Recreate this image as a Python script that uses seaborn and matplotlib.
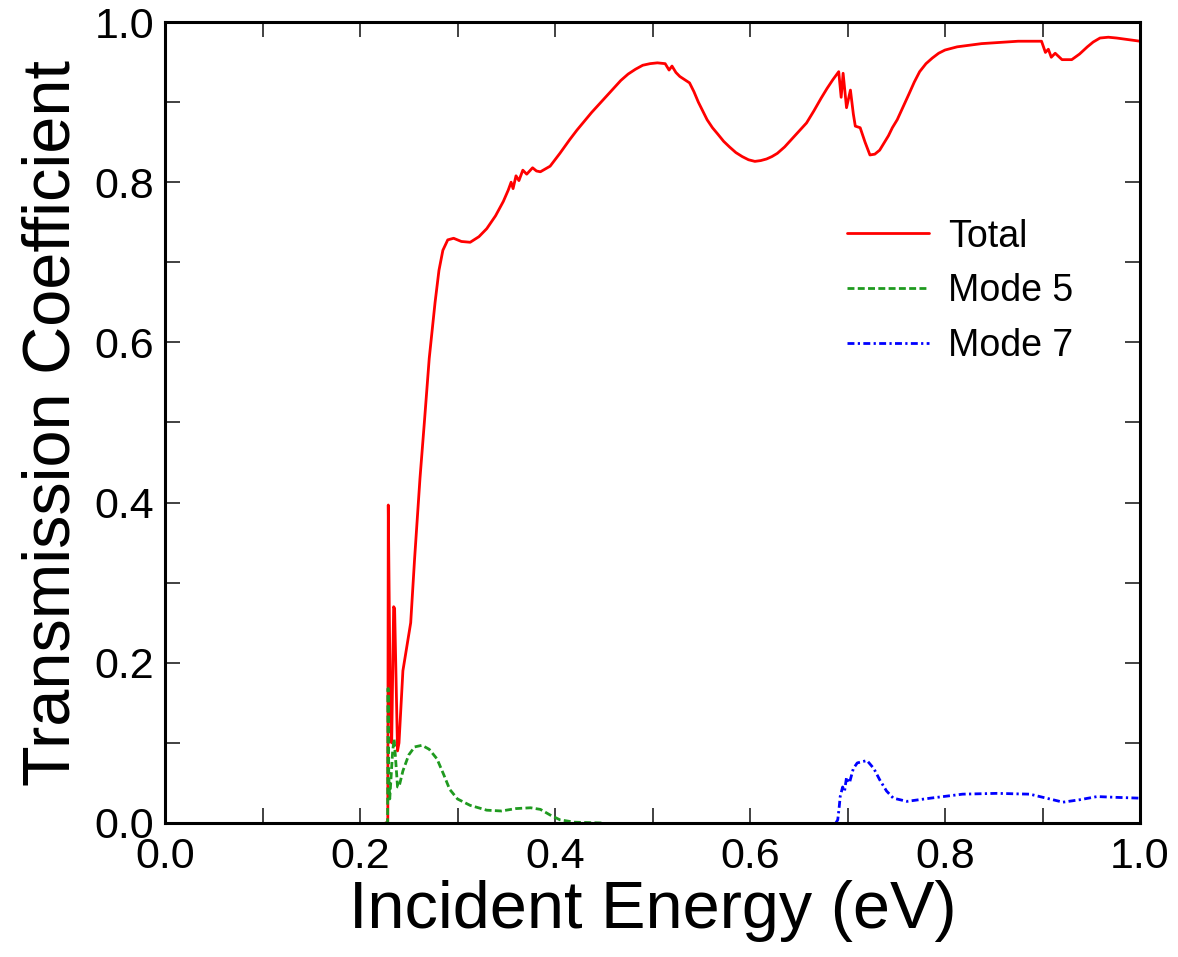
import numpy as np
import pandas as pd
import matplotlib
matplotlib.use("Agg")
import matplotlib.pyplot as plt
from matplotlib.ticker import MultipleLocator
import seaborn as sns

# ---- data ----
total_E = [0.2260, 0.2285, 0.2290, 0.2310, 0.2325, 0.2345, 0.2355, 0.2385, 0.2400, 0.2440,
           0.2480, 0.2520, 0.2560, 0.2615, 0.2660, 0.2710, 0.2770, 0.2810, 0.2850, 0.2900,
           0.2960, 0.3040, 0.3130, 0.3220, 0.3300, 0.3390, 0.3470, 0.3520, 0.3550, 0.3570,
           0.3600, 0.3630, 0.3670, 0.3710, 0.3770, 0.3810, 0.3850, 0.3950, 0.4050, 0.4150,
           0.4225, 0.4300, 0.4375, 0.4450, 0.4525, 0.4600, 0.4675, 0.4750, 0.4825, 0.4900,
           0.4975, 0.5050, 0.5130, 0.5170, 0.5200, 0.5240, 0.5280, 0.5380, 0.5425, 0.5470,
           0.5515, 0.5560, 0.5615, 0.5670, 0.5730, 0.5790, 0.5855, 0.5920, 0.5985, 0.6050,
           0.6110, 0.6170, 0.6225, 0.6280, 0.6355, 0.6430, 0.6505, 0.6580, 0.6655, 0.6730,
           0.6790, 0.6850, 0.6910, 0.6935, 0.6955, 0.6990, 0.7030, 0.7060, 0.7080, 0.7130,
           0.7180, 0.7230, 0.7280, 0.7330, 0.7420, 0.7460, 0.7510, 0.7570, 0.7630, 0.7685,
           0.7740, 0.7805, 0.7870, 0.7935, 0.8000, 0.8125, 0.8250, 0.8375, 0.8500, 0.8625,
           0.8750, 0.8870, 0.8990, 0.9030, 0.9060, 0.9090, 0.9130, 0.9200, 0.9300, 0.9380,
           0.9460, 0.9520, 0.9590, 0.9675, 0.9760, 0.9880, 1.0000]
total_T = [0.000, 0.000, 0.397, 0.150, 0.100, 0.270, 0.268, 0.090, 0.100, 0.190,
           0.220, 0.250, 0.330, 0.430, 0.500, 0.580, 0.650, 0.690, 0.715, 0.728,
           0.730, 0.726, 0.725, 0.732, 0.742, 0.758, 0.776, 0.790, 0.800, 0.792,
           0.808, 0.802, 0.815, 0.810, 0.818, 0.814, 0.813, 0.820, 0.836, 0.853,
           0.865, 0.876, 0.887, 0.897, 0.907, 0.917, 0.927, 0.935, 0.941, 0.946,
           0.948, 0.949, 0.948, 0.940, 0.945, 0.937, 0.932, 0.924, 0.913, 0.900,
           0.889, 0.878, 0.868, 0.860, 0.851, 0.844, 0.837, 0.832, 0.828, 0.826,
           0.827, 0.829, 0.832, 0.836, 0.844, 0.854, 0.864, 0.874, 0.889, 0.905,
           0.917, 0.928, 0.938, 0.906, 0.936, 0.893, 0.915, 0.885, 0.870, 0.868,
           0.850, 0.834, 0.835, 0.840, 0.858, 0.868, 0.878, 0.894, 0.910, 0.925,
           0.938, 0.948, 0.955, 0.961, 0.965, 0.969, 0.971, 0.973, 0.974, 0.975,
           0.976, 0.976, 0.976, 0.962, 0.966, 0.956, 0.961, 0.953, 0.953, 0.960,
           0.969, 0.975, 0.980, 0.981, 0.980, 0.978, 0.976]

mode5_E = [0.2260, 0.2283, 0.2288, 0.2295, 0.2305, 0.2320, 0.2335, 0.2350, 0.2365, 0.2385,
           0.2400, 0.2440, 0.2500, 0.2560, 0.2636, 0.2710, 0.2790, 0.2860, 0.2920, 0.3000,
           0.3130, 0.3300, 0.3450, 0.3600, 0.3750, 0.3850, 0.3950, 0.4050, 0.4200, 0.4500]
mode5_T = [0.000, 0.000, 0.168, 0.060, 0.030, 0.060, 0.090, 0.105, 0.080, 0.045,
           0.045, 0.065, 0.085, 0.095, 0.097, 0.092, 0.080, 0.060, 0.042, 0.030,
           0.022, 0.016, 0.015, 0.018, 0.019, 0.017, 0.010, 0.004, 0.001, 0.000]

mode7_E = [0.6880, 0.6900, 0.6915, 0.6925, 0.6950, 0.6970, 0.6990, 0.7020, 0.7060, 0.7100,
           0.7200, 0.7270, 0.7330, 0.7400, 0.7470, 0.7610, 0.7850, 0.8180, 0.8530, 0.8870,
           0.9040, 0.9210, 0.9380, 0.9560, 0.9760, 1.0000]
mode7_T = [0.000, 0.004, 0.020, 0.033, 0.045, 0.040, 0.057, 0.050, 0.068, 0.075,
           0.078, 0.068, 0.054, 0.040, 0.031, 0.027, 0.031, 0.036, 0.037, 0.036,
           0.031, 0.026, 0.029, 0.033, 0.032, 0.031]

series_names = ["Total", "Mode 5", "Mode 7"]
x_ticks = [0.0, 0.2, 0.4, 0.6, 0.8, 1.0]
y_ticks = [0.0, 0.2, 0.4, 0.6, 0.8, 1.0]

# ---- style ----
sns.set_style("white")
plt.rcParams["font.family"] = ["Liberation Sans", "DejaVu Sans"]
plt.rcParams["text.color"] = "black"
plt.rcParams["axes.labelcolor"] = "black"
plt.rcParams["xtick.color"] = "black"
plt.rcParams["ytick.color"] = "black"

fig = plt.figure(figsize=(11.78, 9.57), dpi=100)
ax = fig.add_axes([165 / 1178, 1 - 823 / 957, (1140 - 165) / 1178, (823 - 22) / 957])

sns.lineplot(x=total_E, y=total_T, ax=ax, color="#ff0000", lw=2.0,
             label=series_names[0], sort=False, estimator=None)
sns.lineplot(x=mode5_E, y=mode5_T, ax=ax, color="#1f9a1f", lw=2.0,
             label=series_names[1], sort=False, estimator=None)
ax.lines[-1].set_dashes([2.5, 1.2])
sns.lineplot(x=mode7_E, y=mode7_T, ax=ax, color="#0000ff", lw=2.0,
             label=series_names[2], sort=False, estimator=None)
ax.lines[-1].set_dashes([2.5, 1.2, 0.8, 1.2])

ax.set_xlim(0, 1)
ax.set_ylim(0, 1)
ax.set_xticks(x_ticks)
ax.set_yticks(y_ticks)
ax.set_xticklabels([f"{v:.1f}" for v in x_ticks])
ax.set_yticklabels([f"{v:.1f}" for v in y_ticks])
ax.xaxis.set_minor_locator(MultipleLocator(0.1))
ax.yaxis.set_minor_locator(MultipleLocator(0.1))
ax.tick_params(which="both", direction="in", length=11, width=1.3, color="#333333",
               bottom=True, left=True, top=True, right=True, labelsize=31,
               labelcolor="black", pad=8)
ax.tick_params(axis="x", pad=10)

for s in ax.spines.values():
    s.set_linewidth(2.2)
    s.set_color("black")

ax.set_xlabel("Incident Energy (eV)", fontsize=48, labelpad=2)
ax.set_ylabel("Transmission Coefficient", fontsize=48, labelpad=8)

leg = ax.legend(loc="upper left", bbox_to_anchor=(0.680, 0.778), frameon=False,
                fontsize=27, handlelength=2.2, handletextpad=0.5, labelspacing=0.5,
                borderpad=0)
for t in leg.get_texts():
    t.set_color("black")

fig.savefig("out.png", dpi=100)
